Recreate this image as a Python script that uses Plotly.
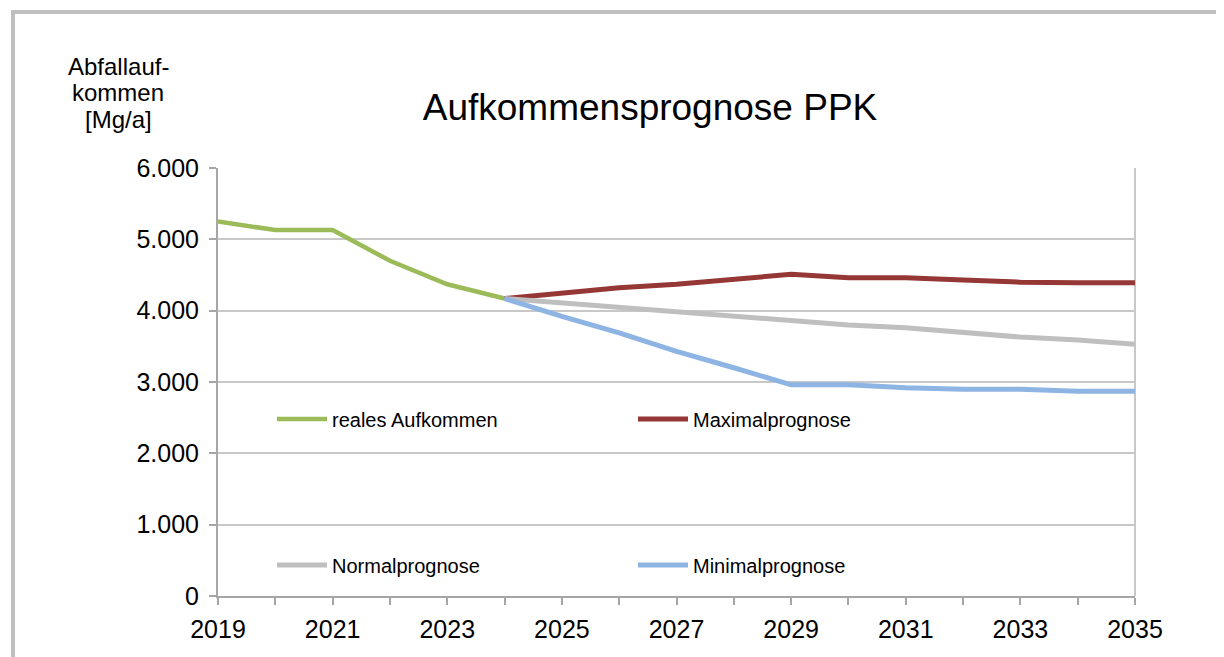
import plotly.graph_objects as go

# ---- data ----
years_real = [2019, 2020, 2021, 2022, 2023, 2024]
real_values = [5250, 5130, 5130, 4700, 4370, 4170]

years_prog = [2024, 2025, 2026, 2027, 2028, 2029, 2030, 2031, 2032, 2033, 2034, 2035]
max_values = [4170, 4250, 4320, 4370, 4440, 4510, 4460, 4460, 4430, 4400, 4390, 4390]
normal_values = [4170, 4110, 4050, 3980, 3930, 3860, 3800, 3760, 3690, 3630, 3590, 3530]
min_values = [4170, 3920, 3690, 3430, 3200, 2960, 2960, 2920, 2900, 2900, 2870, 2870]

x_tick_years = [2019, 2021, 2023, 2025, 2027, 2029, 2031, 2033, 2035]
y_ticks = [0, 1000, 2000, 3000, 4000, 5000, 6000]

series_names = ["reales Aufkommen", "Maximalprognose", "Normalprognose", "Minimalprognose"]
colors = ["#9BBB59", "#953735", "#BFBFBF", "#8EB4E3"]
y_title_lines = ["Abfallauf-", "kommen", "[Mg/a]"]

FONT = "Liberation Sans, Arial, sans-serif"

fig = go.Figure()
fig.add_trace(go.Scatter(x=years_real, y=real_values, mode="lines", name=series_names[0],
                         line=dict(color=colors[0], width=4.5), legend="legend"))
fig.add_trace(go.Scatter(x=years_prog, y=max_values, mode="lines", name=series_names[1],
                         line=dict(color=colors[1], width=5), legend="legend2"))
fig.add_trace(go.Scatter(x=years_prog, y=normal_values, mode="lines", name=series_names[2],
                         line=dict(color=colors[2], width=5), legend="legend3"))
fig.add_trace(go.Scatter(x=years_prog, y=min_values, mode="lines", name=series_names[3],
                         line=dict(color=colors[3], width=5), legend="legend4"))

# page body has an 8px margin: work in reference pixel coordinates and compensate
OFF = 8
W, H = 1224 - OFF, 657 - OFF
L, R, T, B = 218 - OFF, 89, 168 - OFF, 61
pw, ph = W - L - R, H - T - B


def px_x(px):
    return (px - OFF - L) / pw


def px_y(py):
    return (H - B - (py - OFF)) / ph


leg_common = dict(bgcolor="rgba(0,0,0,0)", borderwidth=0, font=dict(family=FONT, size=20, color="#000"),
                  xanchor="left", yanchor="middle", itemwidth=50)

fig.update_layout(
    width=W, height=H,
    margin=dict(l=L, r=R, t=T, b=B),
    paper_bgcolor="white", plot_bgcolor="white",
    separators=",.",
    font=dict(family=FONT, color="#000"),
    title=dict(text="Aufkommensprognose PPK", font=dict(family=FONT, size=37, color="#000"),
               x=px_x(650), xref="paper", xanchor="center",
               y=1 - (107 - OFF) / H, yref="container", yanchor="middle"),
    showlegend=True,
    legend=dict(x=px_x(272), y=px_y(419), **leg_common),
    legend2=dict(x=px_x(633), y=px_y(419), **leg_common),
    legend3=dict(x=px_x(272), y=px_y(565), **leg_common),
    legend4=dict(x=px_x(633), y=px_y(565), **leg_common),
    xaxis=dict(range=[2019, 2035], tickvals=x_tick_years, ticktext=[str(v) for v in x_tick_years],
               ticks="outside", ticklen=7, tickwidth=1.5, tickcolor="#A6A6A6",
               showline=True, linecolor="#A6A6A6", linewidth=2,
               showgrid=False, zeroline=False, ticklabelstandoff=3,
               minor=dict(tickvals=list(range(2019, 2036)), ticks="outside", ticklen=7,
                          tickwidth=1.5, tickcolor="#A6A6A6", showgrid=False),
               tickfont=dict(family=FONT, size=25, color="#000")),
    yaxis=dict(range=[0, 6000], tickvals=y_ticks, tickformat=",d",
               ticks="outside", ticklen=7, tickwidth=1.5, tickcolor="#A6A6A6",
               showline=True, linecolor="#A6A6A6", linewidth=2, ticklabelstandoff=5,
               showgrid=True, gridcolor="#C8C8C8", gridwidth=1.5, zeroline=False,
               tickfont=dict(family=FONT, size=25, color="#000")),
)

# right border of plot area
fig.add_shape(type="line", xref="paper", yref="paper", x0=1, x1=1, y0=0, y1=1,
              line=dict(color="#C8C8C8", width=2), layer="below")
# outer chart frame
fig.add_shape(type="rect", xref="paper", yref="paper",
              x0=px_x(13), x1=px_x(1223), y0=px_y(12), y1=px_y(690),
              line=dict(color="#BFBFBF", width=4), fillcolor="rgba(0,0,0,0)", layer="below")

# y-axis title (three lines, tight spacing as in the reference)
for line_text, y_px in zip(y_title_lines, [66, 92, 119]):
    fig.add_annotation(text=line_text, xref="paper", yref="paper",
                       x=px_x(118), y=px_y(y_px), xanchor="center", yanchor="middle",
                       showarrow=False, font=dict(family=FONT, size=24, color="#000"))

fig.write_html("out.html")
